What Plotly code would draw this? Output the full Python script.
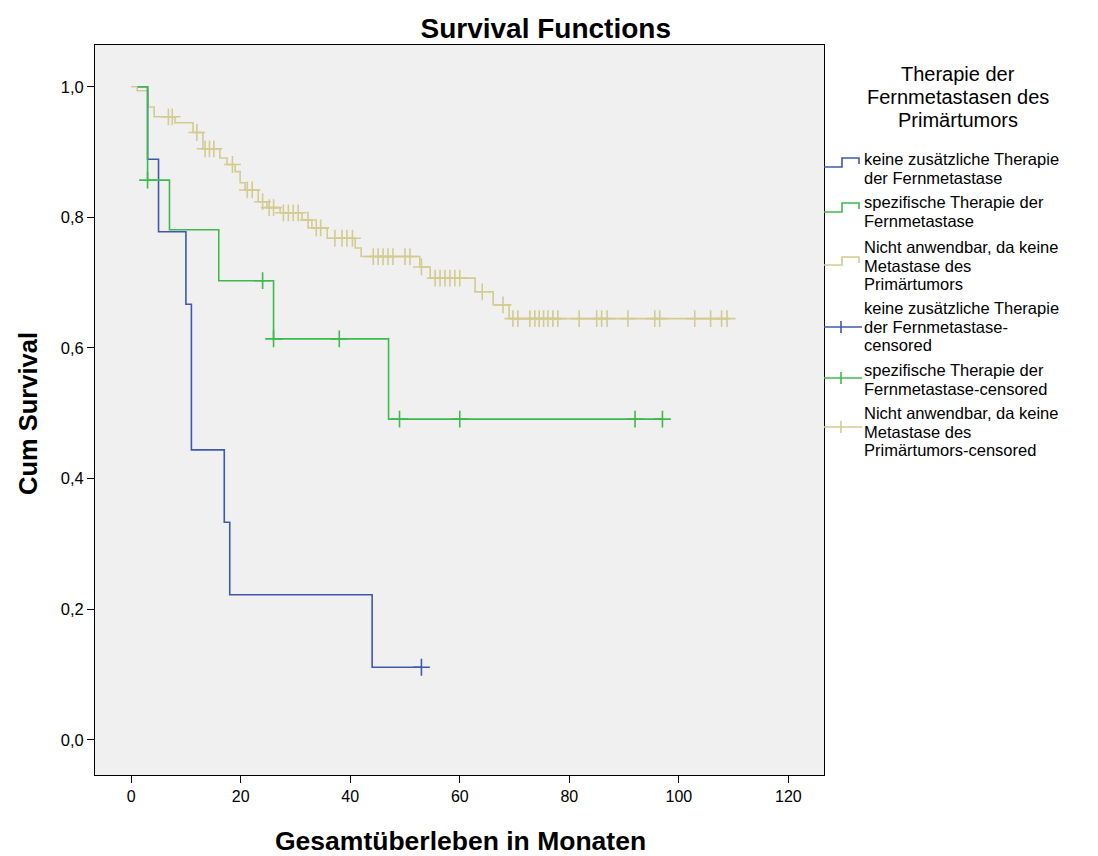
import numpy as np
import plotly.graph_objects as go

# ---------------- data ----------------
blue_name = "keine zusätzliche Therapie der Fernmetastase"
blue_start = 1.2
blue_event_t = [3, 5, 10, 11, 17, 18, 44]
blue_event_s = [0.889, 0.778, 0.667, 0.444, 0.333, 0.222, 0.111]
blue_censor_t = [53]

green_name = "spezifische Therapie der Fernmetastase"
green_start = 1.2
green_event_t = [3, 7, 16, 26, 47]
green_event_s = [0.857, 0.781, 0.703, 0.614, 0.491]
green_censor_t = [3, 24, 26, 38, 49, 60, 92, 97]

yellow_name = "Nicht anwendbar, da keine Metastase des Primärtumors"
yellow_start = 0.0
yellow_event_t = [1.1, 3.1, 4.2, 8.0, 11.3, 13.1, 16.2, 17.5, 19.0, 19.9, 20.8,
                  23.2, 24.8, 27.2, 31.2, 33.0, 35.8, 40.9, 42.0, 52.7, 54.6,
                  62.8, 66.1, 69.0]
yellow_event_s = [0.994, 0.969, 0.954, 0.945, 0.930, 0.905, 0.891, 0.881, 0.870,
                  0.853, 0.842, 0.824, 0.815, 0.807, 0.796, 0.784, 0.768, 0.753,
                  0.740, 0.724, 0.707, 0.686, 0.666, 0.645]
yellow_censor_t = [6.8, 7.5, 12.0, 13.5, 14.3, 15.1, 18.5, 21.2, 22.1, 24.0, 25.2,
                   26.0, 27.8, 28.7, 29.6, 30.5, 32.3, 33.8, 34.6, 37.2, 38.5,
                   39.4, 40.4, 44.2, 45.1, 46.0, 46.9, 47.8, 50.0, 50.9, 53.0,
                   55.5, 56.4, 57.3, 58.2, 59.1, 60.0, 64.1, 67.9, 69.7, 70.6,
                   72.8, 73.7, 74.5, 75.3, 76.1, 77.0, 77.9, 81.8, 85.0, 85.9,
                   86.9, 90.7, 95.6, 96.5, 102.9, 105.8, 107.8, 108.8]

x_ticks = [0, 20, 40, 60, 80, 100, 120]
y_ticks = [0.0, 0.2, 0.4, 0.6, 0.8, 1.0]

chart_title = "Survival Functions"
x_title = "Gesamtüberleben in Monaten"
y_title = "Cum Survival"

legend_title_lines = ["Therapie der", "Fernmetastasen des", "Primärtumors"]
legend_items = [
    ["keine zusätzliche Therapie", "der Fernmetastase"],
    ["spezifische Therapie der", "Fernmetastase"],
    ["Nicht anwendbar, da keine", "Metastase des", "Primärtumors"],
    ["keine zusätzliche Therapie", "der Fernmetastase-", "censored"],
    ["spezifische Therapie der", "Fernmetastase-censored"],
    ["Nicht anwendbar, da keine", "Metastase des", "Primärtumors-censored"],
]

BLUE = "#3f58ad"
GREEN = "#3dba4c"
YELLOW = "#d3cb8f"
FONT = "Liberation Sans, Arial, sans-serif"

W, H = 1098, 856
L, R, T, B = 95, 824, 45, 775  # plot box in pixels


def step_xy(start, ev_t, ev_s, cens_t):
    end = max(list(ev_t) + list(cens_t))
    xs = [start] + list(ev_t) + [end]
    ys = [1.0] + list(ev_s) + [ev_s[-1]]
    return xs, ys


def surv_at(ts, ev_t, ev_s):
    ev_t = np.asarray(ev_t, float)
    lev = np.concatenate([[1.0], np.asarray(ev_s, float)])
    idx = np.searchsorted(ev_t, np.asarray(ts, float), side="right")
    return lev[idx]


fig = go.Figure()
groups = [
    (blue_name, blue_start, blue_event_t, blue_event_s, blue_censor_t, BLUE),
    (green_name, green_start, green_event_t, green_event_s, green_censor_t, GREEN),
    (yellow_name, yellow_start, yellow_event_t, yellow_event_s, yellow_censor_t, YELLOW),
]
order = [2, 0, 1]
for i in order:
    name, st, et, es, ct, col = groups[i]
    xs, ys = step_xy(st, et, es, ct)
    fig.add_trace(go.Scatter(x=xs, y=ys, mode="lines", line=dict(color=col, width=1.6, shape="hv"),
                             name=name, showlegend=False, hoverinfo="skip"))
for i in order:
    name, st, et, es, ct, col = groups[i]
    fig.add_trace(go.Scatter(x=ct, y=surv_at(ct, et, es), mode="markers",
                             marker=dict(symbol="cross-thin", size=12, line=dict(color=col, width=1.6)),
                             name=name + "-censored", showlegend=False, hoverinfo="skip"))


def px(xp):
    return (xp - L) / (R - L)


def py(yp):
    return (B - yp) / (B - T)


annotations = []
shapes = []
# axis titles
annotations.append(dict(x=px(460), y=py(841), xref="paper", yref="paper", text=f"<b>{x_title}</b>",
                        showarrow=False, xanchor="center", yanchor="middle", borderpad=0,
                        font=dict(family=FONT, size=26.5, color="#000")))
annotations.append(dict(x=px(28), y=py(414), xref="paper", yref="paper", text=f"<b>{y_title}</b>",
                        showarrow=False, xanchor="center", yanchor="middle", textangle=-90, borderpad=0,
                        font=dict(family=FONT, size=25.5, color="#000")))
# legend title
for k, line in enumerate(legend_title_lines):
    annotations.append(dict(x=px(958), y=py(74 + 23 * k), xref="paper", yref="paper",
                            text=line, showarrow=False, xanchor="center", yanchor="middle",
                            borderpad=0, font=dict(family=FONT, size=20, color="#000")))
item_y0 = [159, 202, 247, 308, 370, 413]
sym_cols = [BLUE, GREEN, YELLOW, BLUE, GREEN, YELLOW]
for j, lines in enumerate(legend_items):
    for k, line in enumerate(lines):
        annotations.append(dict(x=px(863), y=py(item_y0[j] + 18.6 * k), xref="paper", yref="paper",
                                text=line, showarrow=False, xanchor="left", yanchor="middle",
                                borderpad=0, font=dict(family=FONT, size=16.5, color="#000")))
# legend symbols
step_sym = [(167, 158), (212, 203), (265, 257)]
for j, (lo, hi) in enumerate(step_sym):
    path = (f"M {px(824)},{py(lo)} L {px(842)},{py(lo)} L {px(842)},{py(hi)} "
            f"L {px(859)},{py(hi)} L {px(859)},{py(hi + 6)}")
    shapes.append(dict(type="path", path=path, xref="paper", yref="paper",
                       line=dict(color=sym_cols[j], width=1.6)))
cross_y = [327, 378, 427]
for j, yc in enumerate(cross_y):
    col = sym_cols[3 + j]
    shapes.append(dict(type="line", xref="paper", yref="paper", x0=px(824), x1=px(862),
                       y0=py(yc), y1=py(yc), line=dict(color=col, width=1.6)))
    shapes.append(dict(type="line", xref="paper", yref="paper", x0=px(841), x1=px(841),
                       y0=py(yc - 6), y1=py(yc + 6), line=dict(color=col, width=1.6)))

fig.update_layout(
    width=W, height=H,
    margin=dict(l=L, r=W - R, t=T, b=H - B, pad=0, autoexpand=False),
    paper_bgcolor="white",
    plot_bgcolor="#f0f0f0",
    separators=",.",
    font=dict(family=FONT, color="#000"),
    title=dict(text=f"<b>{chart_title}</b>", x=0.497, xref="container", xanchor="center",
               y=1 - 28 / H, yref="container", yanchor="middle",
               font=dict(family=FONT, size=28, color="#000")),
    showlegend=False,
    annotations=annotations,
    shapes=shapes,
)
fig.update_xaxes(range=[-6.6, 126.5], tickmode="array", tickvals=x_ticks, automargin=False,
                 ticks="outside", ticklen=7, tickwidth=1, tickcolor="#000",
                 showgrid=False, zeroline=False, showline=True, mirror=True,
                 linecolor="#000", linewidth=1,
                 tickfont=dict(family=FONT, size=16, color="#000"))
fig.update_yaxes(range=[-0.054, 1.064], tickmode="array", tickvals=y_ticks, tickformat=".1f",
                 automargin=False,
                 ticks="outside", ticklen=7, tickwidth=1, tickcolor="#000",
                 showgrid=False, zeroline=False, showline=True, mirror=True,
                 linecolor="#000", linewidth=1,
                 tickfont=dict(family=FONT, size=16.5, color="#000"))

fig.write_html("out.html")
